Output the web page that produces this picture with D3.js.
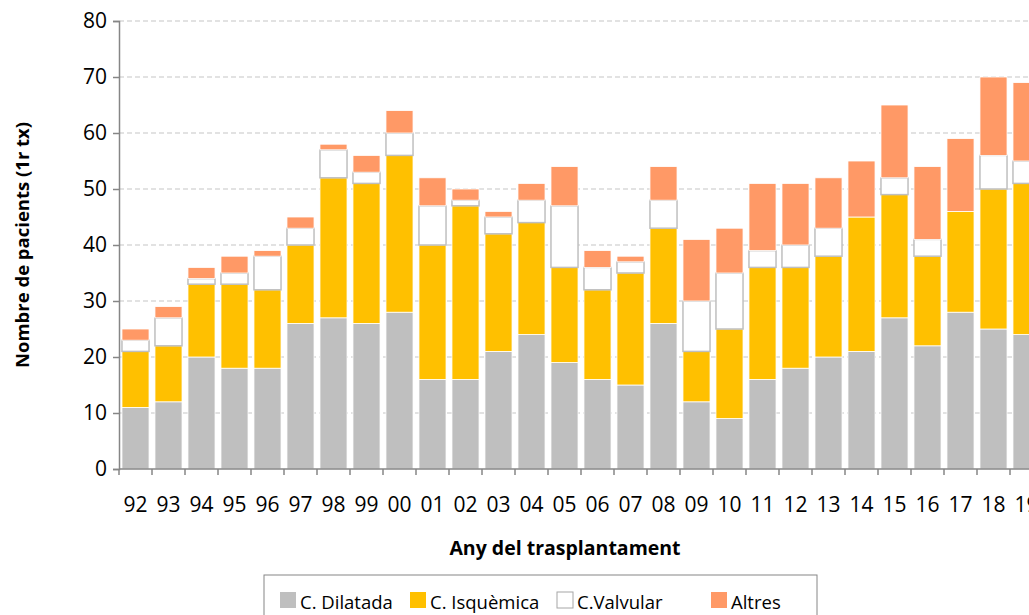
<!DOCTYPE html>
<html>
<head>
<meta charset="utf-8">
<script src="https://cdn.jsdelivr.net/npm/d3@7"></script>
<style>
  body { margin: 0; background: #fff; }
  svg { font-family: "Open Sans", "Liberation Sans", sans-serif; }
</style>
</head>
<body>
<svg width="1029" height="615"></svg>
<script>
// anys del trasplantament
const years = ['92','93','94','95','96','97','98','99','00','01','02','03','04','05',
               '06','07','08','09','10','11','12','13','14','15','16','17','18','19'];

const dilatada  = [11,12,20,18,18,26,27,26,28,16,16,21,24,19,16,15,26,12, 9,16,18,20,21,27,22,28,25,24];
const isquemica = [10,10,13,15,14,14,25,25,28,24,31,21,20,17,16,20,17, 9,16,20,18,18,24,22,16,18,25,27];
const valvular  = [ 2, 5, 1, 2, 6, 3, 5, 2, 4, 7, 1, 3, 4,11, 4, 2, 5, 9,10, 3, 4, 5, 0, 3, 3, 0, 6, 4];
const altres    = [ 2, 2, 2, 3, 1, 2, 1, 3, 4, 5, 2, 1, 3, 7, 3, 1, 6,11, 8,12,11, 9,10,13,13,13,14,14];

const yTicks = [0,10,20,30,40,50,60,70,80];

const seriesKeys = ['dil','isq','val','alt'];
const seriesNames = ['C. Dilatada','C. Isquèmica','C.Valvular','Altres'];
const fills = ['#bfbfbf','#ffc000','#ffffff','#ff9966'];
const strokes = ['#ffffff','#ffffff','#bfbfbf','#ffffff'];

const rows = years.map((y, i) => ({
  year: y, dil: dilatada[i], isq: isquemica[i], val: valvular[i], alt: altres[i]
}));

const svg = d3.select('svg');
const x0 = 119, y0 = 469, yTop = 21;

const x = d3.scaleBand().domain(years).range([x0, x0 + 33 * years.length]).paddingInner(0.18).paddingOuter(0.09);
const y = d3.scaleLinear().domain([0, 80]).range([y0, yTop]);

// grid
svg.append('g').selectAll('line')
  .data(yTicks.filter(d => d > 0))
  .enter().append('line')
  .attr('x1', x0).attr('x2', 1029)
  .attr('y1', d => y(d)).attr('y2', d => y(d))
  .attr('stroke', '#d9d9d9').attr('stroke-width', 1.5)
  .attr('stroke-dasharray', '5,3');

const stack = d3.stack().keys(seriesKeys)(rows);

svg.append('g').selectAll('g')
  .data(stack)
  .enter().append('g')
  .each(function(s, si) {
    d3.select(this).selectAll('rect')
      .data(s.filter(d => d[1] - d[0] > 0))
      .enter().append('rect')
      .attr('x', d => x(d.data.year))
      .attr('width', x.bandwidth())
      .attr('y', d => y(d[1]))
      .attr('height', d => y(d[0]) - y(d[1]))
      .attr('fill', fills[si])
      .attr('stroke', strokes[si])
      .attr('stroke-width', si === 2 ? 1.5 : 0.8);
  });

// y axis
const yAxis = svg.append('g')
  .attr('transform', `translate(${x0},0)`)
  .call(d3.axisLeft(y).tickValues(yTicks).tickSize(6).tickPadding(6));
yAxis.select('.domain').attr('stroke', '#868686').attr('stroke-width', 1.5);
yAxis.selectAll('.tick line').attr('stroke', '#868686').attr('stroke-width', 1.5);
yAxis.selectAll('text').attr('font-size', 21).attr('fill', '#000')
  .attr('font-family', '"Open Sans", sans-serif');

// x axis
svg.append('line').attr('x1', x0).attr('x2', 1029).attr('y1', y0).attr('y2', y0)
  .attr('stroke', '#868686').attr('stroke-width', 1.5);
svg.append('g').selectAll('line')
  .data(d3.range(years.length + 1))
  .enter().append('line')
  .attr('x1', i => x0 + i * x.step()).attr('x2', i => x0 + i * x.step())
  .attr('y1', y0).attr('y2', y0 + 6)
  .attr('stroke', '#868686').attr('stroke-width', 1.5);
svg.append('g').selectAll('text')
  .data(years)
  .enter().append('text')
  .attr('x', d => x(d) + x.bandwidth() / 2)
  .attr('y', 512)
  .attr('text-anchor', 'middle')
  .attr('font-size', 21)
  .text(d => d);

// titles
svg.append('text')
  .attr('x', 565).attr('y', 555)
  .attr('text-anchor', 'middle')
  .attr('font-size', 19.5).attr('font-weight', 'bold')
  .text('Any del trasplantament');
svg.append('text')
  .attr('transform', 'translate(29,245) rotate(-90)')
  .attr('text-anchor', 'middle')
  .attr('font-size', 18.5).attr('font-weight', 'bold')
  .text('Nombre de pacients  (1r tx)');

// legend
const lg = svg.append('g');
lg.append('rect').attr('x', 264).attr('y', 575).attr('width', 553).attr('height', 50)
  .attr('fill', '#fff').attr('stroke', '#868686').attr('stroke-width', 1);
const legX = [280, 410, 557, 711];
seriesNames.forEach((n, i) => {
  lg.append('rect').attr('x', legX[i]).attr('y', 592).attr('width', 16).attr('height', 16)
    .attr('fill', fills[i]).attr('stroke', i === 2 ? '#a6a6a6' : 'none').attr('stroke-width', 1);
  lg.append('text').attr('x', legX[i] + 20).attr('y', 609)
    .attr('font-size', 18.5).text(n);
});
</script>
</body>
</html>
